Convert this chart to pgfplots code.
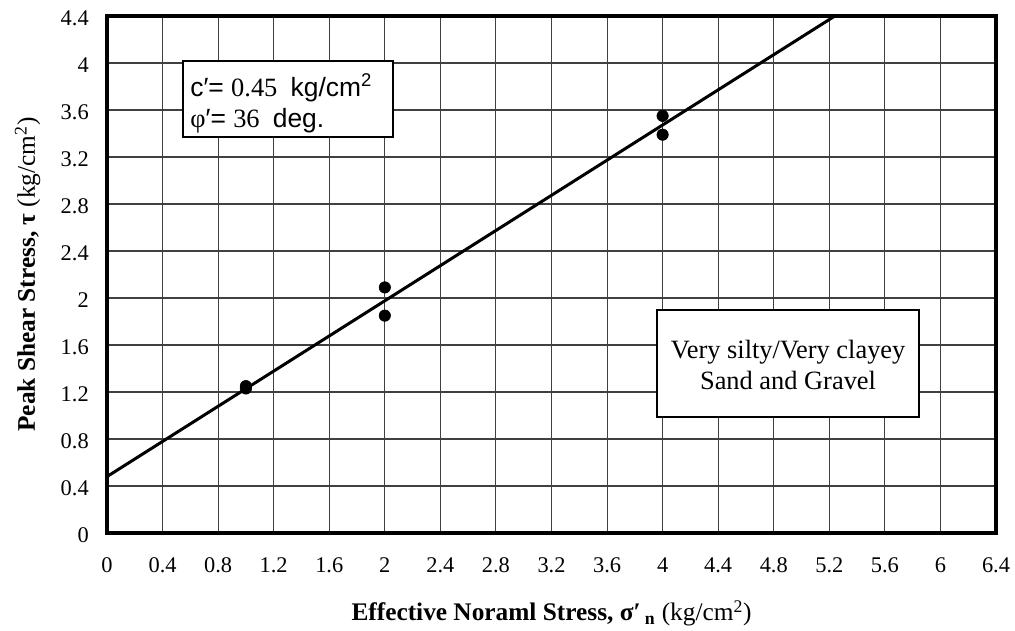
\documentclass[border=0pt]{standalone}
\usepackage{pgfplots}
\pgfplotsset{compat=1.18}
\usepackage{fontspec}
\setmainfont{Liberation Serif}
\newfontfamily\sans{Liberation Sans}
\begin{document}
\begin{tikzpicture}
\path (-80.25pt,-72.75pt) rectangle (681pt,399.75pt);
\begin{axis}[
  at={(0,0)}, anchor=south west,
  scale only axis, width=666.75pt, height=387.75pt,
  xmin=0, xmax=6.4, ymin=0, ymax=4.4,
  xtick={0,0.4,0.8,1.2,1.6,2,2.4,2.8,3.2,3.6,4,4.4,4.8,5.2,5.6,6,6.4},
  xticklabels={0,0.4,0.8,1.2,1.6,2,2.4,2.8,3.2,3.6,4,4.4,4.8,5.2,5.6,6,6.4},
  ytick={0,0.4,0.8,1.2,1.6,2,2.4,2.8,3.2,3.6,4,4.4},
  yticklabels={0,0.4,0.8,1.2,1.6,2,2.4,2.8,3.2,3.6,4,4.4},
  grid=major,
  major grid style={line width=0.8pt, color=black!75},
  major tick length=0pt,
  axis line style={line width=2.5pt},
  tick label style={font=\fontsize{16.8}{19}\selectfont},
  xticklabel style={anchor=base, inner sep=0pt, yshift=-30pt},
  yticklabel style={anchor=east, inner sep=0pt, xshift=-13.5pt, yshift=-1.5pt},
  xlabel={\textbf{Effective Noraml Stress, σ′\,\textsubscript{n}} (kg/cm\textsuperscript{2})},
  ylabel={\textbf{Peak Shear Stress, τ} (kg/cm\textsuperscript{2})},
  xlabel style={at={(axis description cs:0.5,-0.170)}, anchor=base, font=\fontsize{19}{23}\selectfont},
  ylabel style={at={(axis description cs:-0.081,0.5)}, anchor=base, font=\fontsize{19}{23}\selectfont},
]
\addplot[no marks, line width=2.25pt, black] coordinates {(0,0.48) (5.24,4.4)};
\addplot[only marks, mark=*, mark size=4.3pt, black] coordinates {
  (1,1.25) (1,1.23) (2,2.09) (2,1.85) (4,3.55) (4,3.39)};
\draw[line width=1.25pt, fill=white] (axis cs:0.547,3.370) rectangle (axis cs:2.059,4.017);
\node[anchor=base west, inner sep=0pt, font=\fontsize{19.8}{23}\selectfont] at (axis cs:0.598,3.711)
  {{\sans c′= }0.45\ \ {\sans kg/cm\textsuperscript{2}}};
\node[anchor=base west, inner sep=0pt, font=\fontsize{19.8}{23}\selectfont] at (axis cs:0.598,3.447)
  {φ{\sans ′= }36\ \ {\sans deg.}};
\draw[line width=1.5pt, fill=white] (axis cs:3.960,0.987) rectangle (axis cs:5.846,1.898);
\node[anchor=base, inner sep=0pt, font=\fontsize{19.8}{23}\selectfont] at (axis cs:4.903,1.489) {Very silty/Very clayey};
\node[anchor=base, inner sep=0pt, font=\fontsize{19.8}{23}\selectfont] at (axis cs:4.903,1.217) {Sand and Gravel};
\end{axis}
\end{tikzpicture}
\end{document}
